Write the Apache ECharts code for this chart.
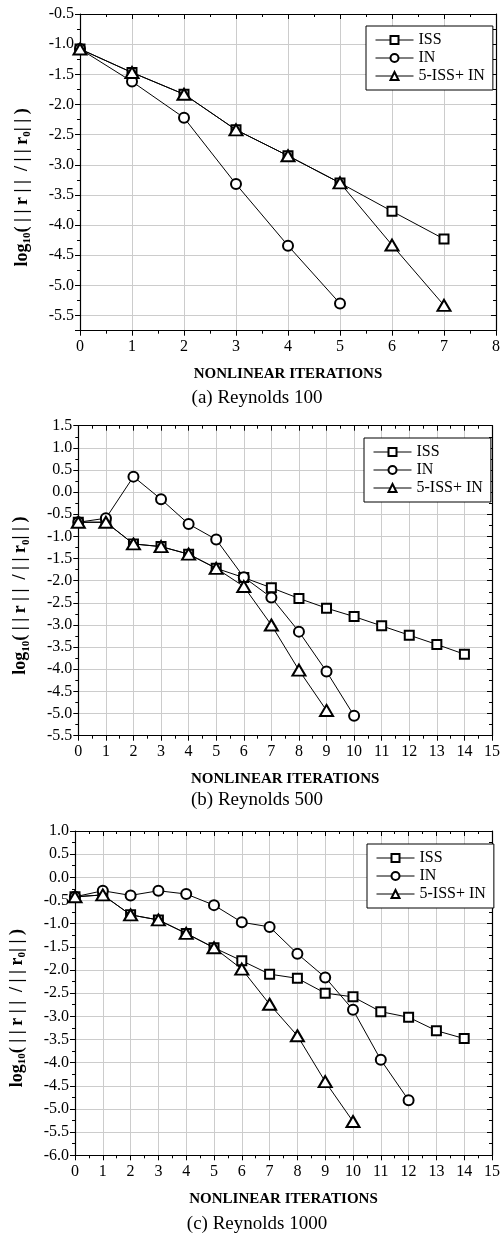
<!DOCTYPE html>
<html>
<head>
<meta charset="utf-8">
<script src="https://cdn.jsdelivr.net/npm/echarts@6/dist/echarts.min.js"></script>
<style>
  html, body { margin: 0; padding: 0; background: #fff; }
  #chart { width: 503px; height: 1241px; }
</style>
</head>
<body>
<div id="chart"></div>
<script>
// data
var seriesNames = ['ISS', 'IN', '5-ISS+ IN'];

var iss100 = [-1.08, -1.47, -1.83, -2.42, -2.85, -3.30, -3.77, -4.23];
var in100 = [-1.08, -1.62, -2.22, -3.32, -4.34, -5.30];
var hyb100 = [-1.08, -1.47, -1.83, -2.42, -2.85, -3.30, -4.33, -5.33];

var iss500 = [-0.68, -0.68, -1.17, -1.23, -1.40, -1.72, -1.93, -2.16, -2.40, -2.62, -2.81, -3.02, -3.23, -3.44, -3.66];
var in500 = [-0.68, -0.59, 0.35, -0.16, -0.72, -1.07, -1.92, -2.38, -3.15, -4.05, -5.05];
var hyb500 = [-0.68, -0.68, -1.17, -1.23, -1.40, -1.72, -2.13, -3.00, -4.02, -4.93];

var iss1000 = [-0.42, -0.38, -0.81, -0.92, -1.21, -1.52, -1.80, -2.09, -2.18, -2.50, -2.58, -2.90, -3.02, -3.31, -3.48];
var in1000 = [-0.42, -0.29, -0.39, -0.29, -0.36, -0.60, -0.97, -1.07, -1.65, -2.16, -2.86, -3.94, -4.81];
var hyb1000 = [-0.42, -0.38, -0.81, -0.92, -1.21, -1.52, -1.98, -2.74, -3.42, -4.41, -5.27];

var captions = ['(a) Reynolds 100', '(b) Reynolds 500', '(c) Reynolds 1000'];
var xRanges = [[0, 8], [0, 15], [0, 15]];
var yRanges = [[-5.75, -0.5], [-5.5, 1.5], [-6.0, 1.0]];

var font = "'Liberation Serif', 'Times New Roman', serif";

// layout of each panel, in px
var panels = [
  { data: [iss100, in100, hyb100], grid: { left: 80, top: 14, width: 420, height: 316.7 },
    legend: { left: 366, top: 26 }, caption: { x: 257, top: 389 } },
  { data: [iss500, in500, hyb500], grid: { left: 78.3, top: 425.7, width: 419.7, height: 310 },
    legend: { left: 364, top: 438 }, caption: { x: 257, top: 791 } },
  { data: [iss1000, in1000, hyb1000], grid: { left: 74.7, top: 831, width: 429, height: 324.3 },
    legend: { left: 367, top: 844 }, caption: { x: 257, top: 1215 } }
];

var symbols = [
  { symbol: 'emptyRect', size: 9 },
  { symbol: 'emptyCircle', size: 10 },
  { symbol: 'emptyTriangle', size: [13, 11] }
];

function toPoints(arr) {
  return arr.map(function (v, i) { return [i, v]; });
}

function yLabel(v) {
  var d = v * 2;
  if (Math.abs(d - Math.round(d)) > 1e-6) return '';
  return v.toFixed(1);
}

var axisLine = { onZero: false, lineStyle: { color: '#000', width: 1.2 } };
var grids = [], xAxes = [], yAxes = [], series = [], legends = [], titles = [];

panels.forEach(function (p, k) {
  grids.push(p.grid);
  var xr = xRanges[k], yr = yRanges[k];
  var yInt = k === 0 ? { minInterval: 0.5, maxInterval: 0.5 } : { interval: 0.5 };

  // bottom axis
  xAxes.push({
    gridIndex: k, type: 'value', min: xr[0], max: xr[1], interval: 1,
    axisLine: axisLine,
    axisTick: { show: true, length: 5, lineStyle: { color: '#000' } },
    minorTick: { show: true, splitNumber: 2, length: 3, lineStyle: { color: '#000' } },
    axisLabel: { color: '#000', fontFamily: font, fontSize: 16, margin: 8 },
    splitLine: { show: true, lineStyle: { color: '#cccccc', width: 1 } },
    name: 'NONLINEAR ITERATIONS', nameLocation: 'middle', nameGap: 36,
    nameTextStyle: { color: '#000', fontFamily: font, fontSize: 15, fontWeight: 'bold' }
  });
  // top mirror axis
  xAxes.push({
    gridIndex: k, type: 'value', position: 'top', min: xr[0], max: xr[1], interval: 1,
    axisLine: axisLine,
    axisTick: { show: true, inside: true, length: 5, lineStyle: { color: '#000' } },
    minorTick: { show: true, splitNumber: 2, length: 3, lineStyle: { color: '#000' } },
    axisLabel: { show: false }, splitLine: { show: false }
  });
  // left axis
  yAxes.push(Object.assign({
    gridIndex: k, type: 'value', min: yr[0], max: yr[1],
    axisLine: axisLine,
    axisTick: { show: true, length: 5, lineStyle: { color: '#000' } },
    minorTick: { show: true, splitNumber: 2, length: 3, lineStyle: { color: '#000' } },
    axisLabel: { color: '#000', fontFamily: font, fontSize: 16, margin: 6, formatter: yLabel },
    splitLine: { show: true, showMinLine: false, lineStyle: { color: '#cccccc', width: 1 } },
    name: '{b|log}{s|10}{b|( | | r | |  / | | r}{s|0}{b|| | )}',
    nameLocation: 'middle', nameRotate: 90, nameGap: 47,
    nameTextStyle: {
      padding: [0, 30, 0, 0],
      rich: {
        b: { fontFamily: font, fontSize: 18, fontWeight: 'bold', color: '#000', lineHeight: 22 },
        s: { fontFamily: font, fontSize: 11, fontWeight: 'bold', color: '#000', lineHeight: 11, verticalAlign: 'bottom' }
      }
    }
  }, yInt));
  // right mirror axis
  yAxes.push(Object.assign({
    gridIndex: k, type: 'value', position: 'right', min: yr[0], max: yr[1],
    axisLine: axisLine,
    axisTick: { show: true, inside: true, length: 5, lineStyle: { color: '#000' } },
    minorTick: { show: true, splitNumber: 2, length: 3, lineStyle: { color: '#000' } },
    axisLabel: { show: false }, splitLine: { show: false }
  }, yInt));

  p.data.forEach(function (arr, j) {
    series.push({
      name: seriesNames[j], type: 'line',
      xAxisIndex: k * 2, yAxisIndex: k * 2,
      data: toPoints(arr),
      symbol: symbols[j].symbol, symbolSize: symbols[j].size,
      lineStyle: { color: '#000', width: 1 },
      itemStyle: { color: '#000', borderColor: '#000', borderWidth: 1.5 },
      animation: false, z: 2 + j
    });
  });

  legends.push({
    orient: 'vertical', left: p.legend.left, top: p.legend.top,
    data: seriesNames, itemWidth: 38, itemHeight: 10, itemGap: 2,
    borderColor: '#000', borderWidth: 1, backgroundColor: '#fff',
    padding: [6, 8, 6, 9], selectedMode: false,
    lineStyle: { width: 1 },
    itemStyle: { borderWidth: 1 },
    textStyle: { color: '#000', fontFamily: font, fontSize: 16, lineHeight: 12 }
  });

  titles.push({
    text: captions[k], left: p.caption.x, top: p.caption.top, textAlign: 'center', padding: 0,
    textStyle: { color: '#000', fontFamily: font, fontSize: 19, fontWeight: 'normal' }
  });
});

var myChart = echarts.init(document.getElementById('chart'));
myChart.setOption({
  backgroundColor: '#fff',
  animation: false,
  title: titles,
  legend: legends,
  grid: grids,
  xAxis: xAxes,
  yAxis: yAxes,
  series: series
});
</script>
</body>
</html>
